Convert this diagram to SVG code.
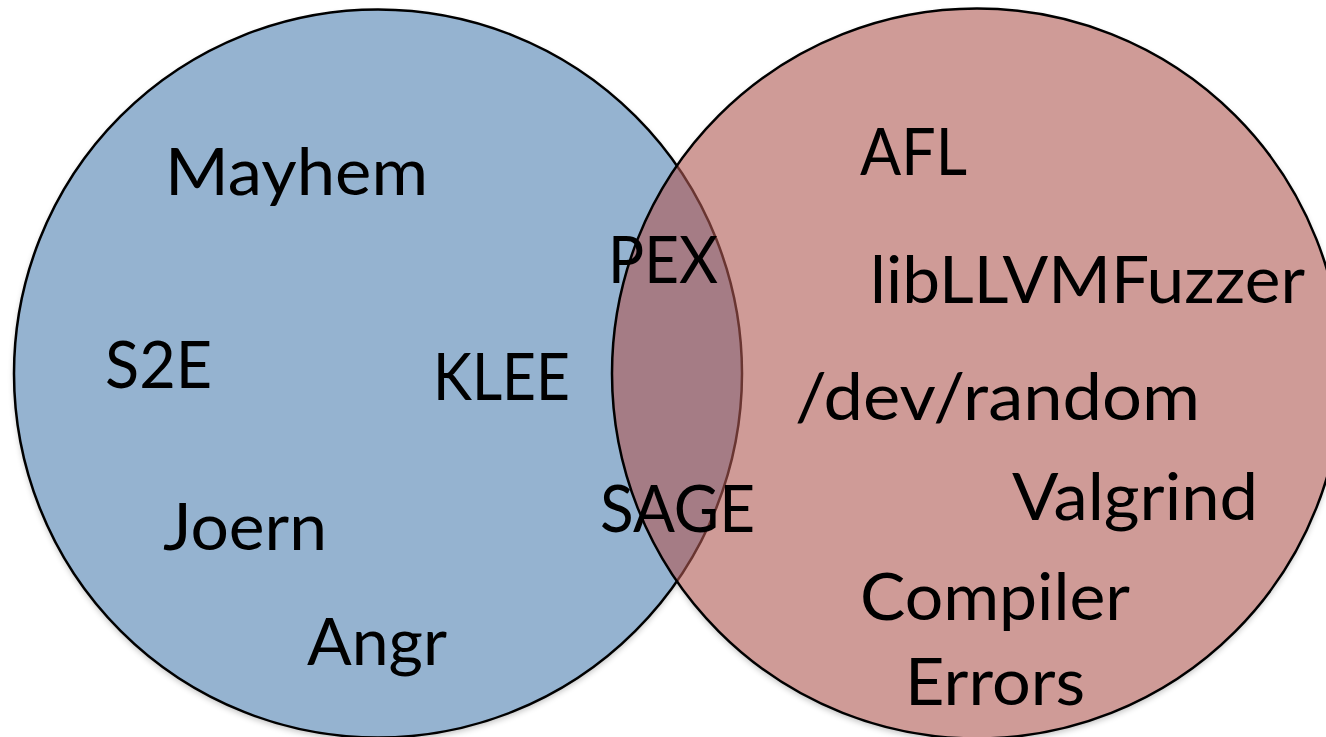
<svg xmlns="http://www.w3.org/2000/svg" width="1326" height="737" viewBox="0 0 1326 737">
  <style>
    .lbl { font-family: Lato, "Open Sans", "Liberation Sans", sans-serif; font-size: 66px; fill: #000; }
    .ring { fill: none; stroke: #000; stroke-width: 2.5; }
  </style>
  <defs>
    <filter id="blur" x="-10%" y="-10%" width="120%" height="120%">
      <feGaussianBlur stdDeviation="3"/>
    </filter>
    <clipPath id="clip-right">
      <circle cx="977" cy="373.5" r="365"/>
    </clipPath>
  </defs>
  <rect width="1326" height="737" fill="#ffffff"/>
  <g id="shadows" fill="#000" opacity="0.25" filter="url(#blur)">
    <circle cx="378" cy="376.5" r="364"/>
    <circle cx="977" cy="376.5" r="365"/>
  </g>
  <g id="set-left">
    <circle cx="378" cy="373.5" r="364" fill="#95B3D0"/>
    <circle class="ring" cx="378" cy="373.5" r="364"/>
  </g>
  <g id="set-right">
    <circle cx="977" cy="373.5" r="365" fill="#CF9B97"/>
    <g clip-path="url(#clip-right)">
      <circle cx="378" cy="373.5" r="364" fill="#A57C85"/>
      <circle cx="378" cy="373.5" r="364" fill="none" stroke="#693531" stroke-width="2.5"/>
    </g>
    <circle class="ring" cx="977" cy="373.5" r="365"/>
  </g>
  <g id="connectors"></g>
  <g id="labels">
    <text id="t-mayhem" class="lbl" x="165" y="195" textLength="263" lengthAdjust="spacingAndGlyphs">Mayhem</text>
    <text id="t-afl" class="lbl" x="860" y="175" textLength="107" lengthAdjust="spacingAndGlyphs">AFL</text>
    <text id="t-pex" class="lbl" x="608" y="283" textLength="110" lengthAdjust="spacingAndGlyphs">PEX</text>
    <text id="t-libllvm" class="lbl" x="870" y="303" textLength="435" lengthAdjust="spacingAndGlyphs">libLLVMFuzzer</text>
    <text id="t-s2e" class="lbl" x="105" y="388" textLength="107" lengthAdjust="spacingAndGlyphs">S2E</text>
    <text id="t-klee" class="lbl" x="433" y="400" textLength="137" lengthAdjust="spacingAndGlyphs">KLEE</text>
    <text id="t-devrandom" class="lbl" x="795" y="420" textLength="405" lengthAdjust="spacingAndGlyphs">/dev/random</text>
    <text id="t-valgrind" class="lbl" x="1012" y="520" textLength="246" lengthAdjust="spacingAndGlyphs">Valgrind</text>
    <text id="t-sage" class="lbl" x="600" y="532" textLength="155" lengthAdjust="spacingAndGlyphs">SAGE</text>
    <text id="t-joern" class="lbl" x="163" y="550" textLength="164" lengthAdjust="spacingAndGlyphs">Joern</text>
    <text id="t-compiler" class="lbl" x="860" y="620" textLength="270" lengthAdjust="spacingAndGlyphs">Compiler</text>
    <text id="t-errors" class="lbl" x="905" y="705" textLength="180" lengthAdjust="spacingAndGlyphs">Errors</text>
    <text id="t-angr" class="lbl" x="307" y="665" textLength="140" lengthAdjust="spacingAndGlyphs">Angr</text>
  </g>
</svg>
